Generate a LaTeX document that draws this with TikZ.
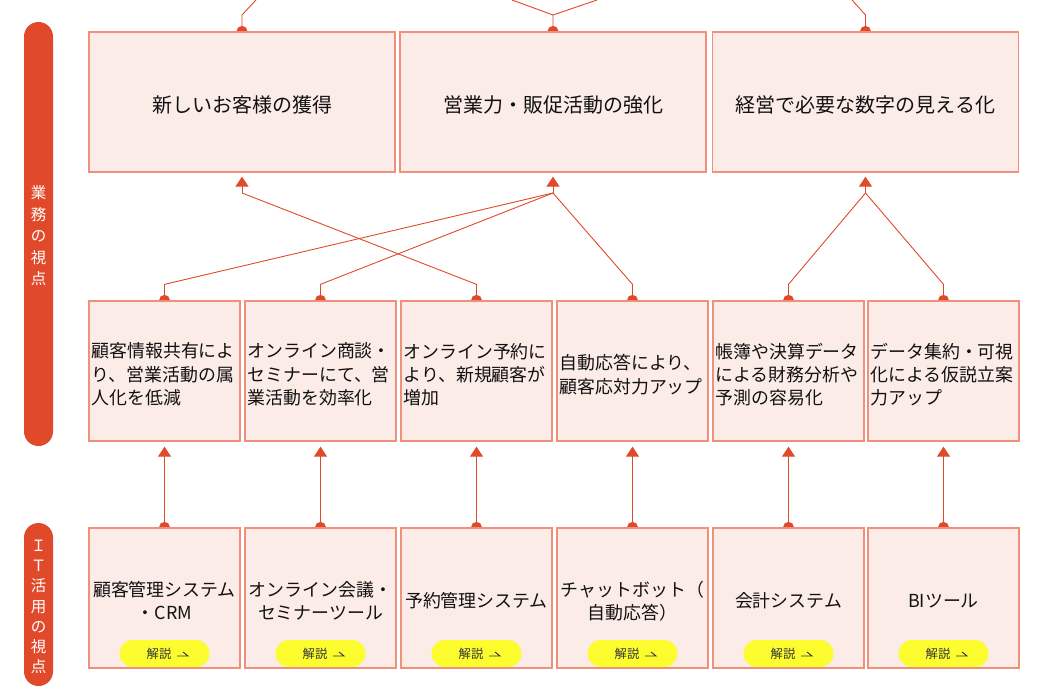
\documentclass[tikz,border=0pt]{standalone}
\usepackage{fontspec}
\setmainfont{Noto Sans CJK JP}
\usetikzlibrary{arrows.meta}
\definecolor{accent}{HTML}{E04A2A}
\definecolor{boxline}{HTML}{EF8F7C}
\definecolor{boxfill}{HTML}{FCECE8}
\definecolor{btnfill}{HTML}{FCFC2E}
\definecolor{txt}{HTML}{111111}
\pgfdeclarelayer{bg}
\pgfsetlayers{bg,main}
\begin{document}
\begin{tikzpicture}[x=1pt,y=-1pt,
  boxbase/.style={draw=boxline, fill=boxfill, line width=1.3pt, inner sep=0pt},
  topbox/.style={boxbase, minimum width=306pt, minimum height=140pt},
  cellbox/.style={boxbase, minimum width=151pt, minimum height=140pt},
  toptext/.style={inner sep=0pt, font=\fontsize{20}{24}\selectfont, text=txt},
  midtext/.style={inner sep=0pt, text width=146pt, align=left, font=\fontsize{17.9}{23.3}\selectfont, text=txt},
  bottext/.style={inner sep=0pt, text width=151pt, align=center, font=\fontsize{17.9}{23}\selectfont, text=txt},
  btn/.style={fill=btnfill, rounded corners=13.5pt, minimum width=90pt, minimum height=27pt, inner sep=0pt},
  btntext/.style={font=\fontsize{12.3}{14}\selectfont, text=txt!85, inner sep=0pt},
  vlabel/.style={text=white, align=center, inner sep=0pt},
  conn/.style={draw=accent, line width=0.9pt},
  tip/.style={-{Triangle[width=13pt,length=10pt]}},
  dot/.style={fill=accent}
]
\useasboundingbox (0,0) rectangle (1047,693);

% side bars
\fill[accent, rounded corners=14.5pt] (24,22) rectangle (53,446);
\fill[accent, rounded corners=14.5pt] (24,523) rectangle (53,686);
\node[vlabel, font=\fontsize{15.5}{21.5}\selectfont] (v1) at (38.5,236) {業\\務\\の\\視\\点};
\node[vlabel, font=\fontsize{15.5}{20.3}\selectfont] (v2) at (38.5,607) {Ｉ\\Ｔ\\活\\用\\の\\視\\点};

% top boxes
\node[topbox] (t1) at (242,102) {};
\node[topbox] (t2) at (553,102) {};
\node[topbox] (t3) at (865.5,102) {};
\node[toptext] (tt1) at ([yshift=-3pt]t1.center) {新しいお客様の獲得};
\node[toptext] (tt2) at ([yshift=-3pt]t2.center) {営業力・販促活動の強化};
\node[toptext] (tt3) at ([yshift=-3pt]t3.center) {経営で必要な数字の見える化};

% middle boxes
\foreach \i/\x in {1/164.5,2/320.5,3/476.5,4/632.5,5/788.5,6/943.5}{
  \node[cellbox] (m\i) at (\x,371) {};
  \node[cellbox] (b\i) at (\x,598) {};
}
\node[midtext] (mt1) at ([yshift=-3.5pt]m1.center) {顧客情報共有によ\\り、営業活動の属\\人化を低減};
\node[midtext] (mt2) at ([yshift=-3.5pt]m2.center) {オンライン商談・\\セミナーにて、営\\業活動を効率化};
\node[midtext] (mt3) at ([yshift=-3.5pt]m3.center) {オンライン予約に\\より、新規顧客が\\増加};
\node[midtext] (mt4) at ([yshift=-3.5pt]m4.center) {自動応答により、\\顧客応対力アップ};
\node[midtext] (mt5) at ([yshift=-3.5pt]m5.center) {帳簿や決算データ\\による財務分析や\\予測の容易化};
\node[midtext] (mt6) at ([yshift=-3.5pt]m6.center) {データ集約・可視\\化による仮説立案\\力アップ};

% bottom texts
\node[bottext] (bt1) at ([yshift=-3pt]b1.center) {顧客管理システム\\・CRM};
\node[bottext] (bt2) at ([yshift=-3pt]b2.center) {オンライン会議・\\セミナーツール};
\node[bottext] (bt3) at ([yshift=-3pt]b3.center) {予約管理システム};
\node[bottext] (bt4) at ([yshift=-3pt]b4.center) {チャットボット（\\自動応答）};
\node[bottext] (bt5) at ([yshift=-3pt]b5.center) {会計システム};
\node[bottext] (bt6) at ([yshift=-3pt]b6.center) {BIツール};

% buttons
\foreach \i/\x in {1/164.5,2/320.5,3/476.5,4/632.5,5/788.5,6/943.5}{
  \node[btn] (h\i) at (\x,653.5) {};
  \node[btntext] (ht\i) at ([xshift=-5.5pt]h\i.center) {解説};
  \draw[txt!85, line width=0.9pt] ([xshift=12.5pt,yshift=-2.5pt]h\i.center) -- ++(11,0) -- ++(-5,-4);
}

% connector coordinates
\coordinate (a1) at (242,15);  \coordinate (e1) at (256,0);
\coordinate (a2) at (553,15);  \coordinate (e2l) at (512,0); \coordinate (e2r) at (597,0);
\coordinate (a3) at (865.5,15); \coordinate (e3) at (852,0);
\coordinate (j1) at (242,193);
\coordinate (j2) at (553,193);
\coordinate (j3) at (865.5,193);

\begin{pgfonlayer}{bg}
  % dots
  \foreach \n in {t1,t2,t3,m1,m2,m3,m4,m5,m6,b1,b2,b3,b4,b5,b6}{
    \fill[dot] (\n.north) circle[radius=5.5pt];
  }
  % top exits
  \draw[conn] (t1.north) -- (a1) -- (e1);
  \draw[conn] (t2.north) -- (a2) -- (e2l);
  \draw[conn] (a2) -- (e2r);
  \draw[conn] (t3.north) -- (a3) -- (e3);
  % arrows into top boxes
  \draw[conn, tip, accent] (j1) -- ([yshift=-4pt]t1.south);
  \draw[conn, tip, accent] (j2) -- ([yshift=-4pt]t2.south);
  \draw[conn, tip, accent] (j3) -- ([yshift=-4pt]t3.south);
  % middle to top
  \draw[conn] (m1.north) -- ++(0,-16) -- (j2);
  \draw[conn] (m2.north) -- ++(0,-16) -- (j2);
  \draw[conn] (m3.north) -- ++(0,-16) -- (j1);
  \draw[conn] (m4.north) -- ++(0,-16) -- (j2);
  \draw[conn] (m5.north) -- ++(0,-16) -- (j3);
  \draw[conn] (m6.north) -- ++(0,-16) -- (j3);
  % bottom to middle
  \foreach \i in {1,...,6}{
    \draw[conn, tip, accent] (b\i.north) -- ([yshift=-5pt]m\i.south);
  }
\end{pgfonlayer}
\end{tikzpicture}
\end{document}
